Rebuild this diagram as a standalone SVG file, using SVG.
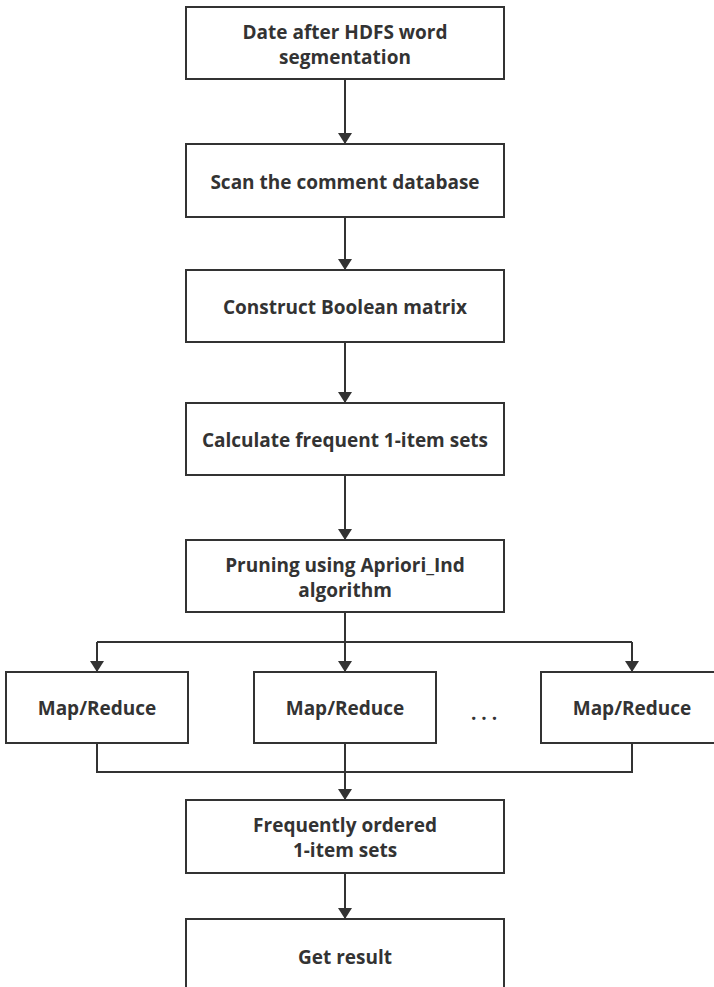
<svg xmlns="http://www.w3.org/2000/svg" width="714" height="987" viewBox="0 0 714 987">
<defs>
<marker id="arr" markerWidth="11" markerHeight="14" refX="12" refY="6" orient="auto" markerUnits="userSpaceOnUse" viewBox="0 0 12 12" preserveAspectRatio="none">
<path d="M0,0 L12,6 L0,12 Z" fill="#333"/>
</marker>
<style>
.box{fill:#fff;stroke:#333;stroke-width:2}
.t{font-family:"Open Sans","Noto Sans","DejaVu Sans",sans-serif;font-weight:bold;font-size:19px;fill:#333;text-anchor:middle}
.c{fill:none;stroke:#333;stroke-width:2}
</style>
</defs>
<rect width="714" height="987" fill="#fff"/>
<g id="connectors">
<path class="c" d="M345,79 V144" marker-end="url(#arr)"/>
<path class="c" d="M345,217 V270" marker-end="url(#arr)"/>
<path class="c" d="M345,342 V403" marker-end="url(#arr)"/>
<path class="c" d="M345,475 V540" marker-end="url(#arr)"/>
<path class="c" d="M345,612 V672" marker-end="url(#arr)"/>
<path class="c" d="M97,642 H632"/>
<path class="c" d="M97,642 V672" marker-end="url(#arr)"/>
<path class="c" d="M632,642 V672" marker-end="url(#arr)"/>
<path class="c" d="M97,743 V772 H632 V743"/>
<path class="c" d="M345,743 V800" marker-end="url(#arr)"/>
<path class="c" d="M345,873 V919" marker-end="url(#arr)"/>
</g>
<g id="n1"><rect class="box" x="186" y="7" width="318" height="72"/><text class="t" x="345" y="39">Date after HDFS word</text><text class="t" x="345" y="64">segmentation</text></g>
<g id="n2"><rect class="box" x="186" y="144" width="318" height="73"/><text class="t" x="345" y="189">Scan the comment database</text></g>
<g id="n3"><rect class="box" x="186" y="270" width="318" height="72"/><text class="t" x="345" y="314">Construct Boolean matrix</text></g>
<g id="n4"><rect class="box" x="186" y="403" width="318" height="72"/><text class="t" x="345" y="447">Calculate frequent 1-item sets</text></g>
<g id="n5"><rect class="box" x="186" y="540" width="318" height="72"/><text class="t" x="345" y="572">Pruning using Apriori_Ind</text><text class="t" x="345" y="597">algorithm</text></g>
<g id="m1"><rect class="box" x="6" y="672" width="182" height="71"/><text class="t" x="97" y="715">Map/Reduce</text></g>
<g id="m2"><rect class="box" x="254" y="672" width="182" height="71"/><text class="t" x="345" y="715">Map/Reduce</text></g>
<g id="dots"><text class="t" x="484" y="720">. . .</text></g>
<g id="m3"><rect class="box" x="541" y="672" width="182" height="71"/><text class="t" x="632" y="715">Map/Reduce</text></g>
<g id="n6"><rect class="box" x="186" y="800" width="318" height="73"/><text class="t" x="345" y="832">Frequently ordered</text><text class="t" x="345" y="857">1-item sets</text></g>
<g id="n7"><rect class="box" x="186" y="919" width="318" height="80"/><text class="t" x="345" y="964">Get result</text></g>
</svg>
